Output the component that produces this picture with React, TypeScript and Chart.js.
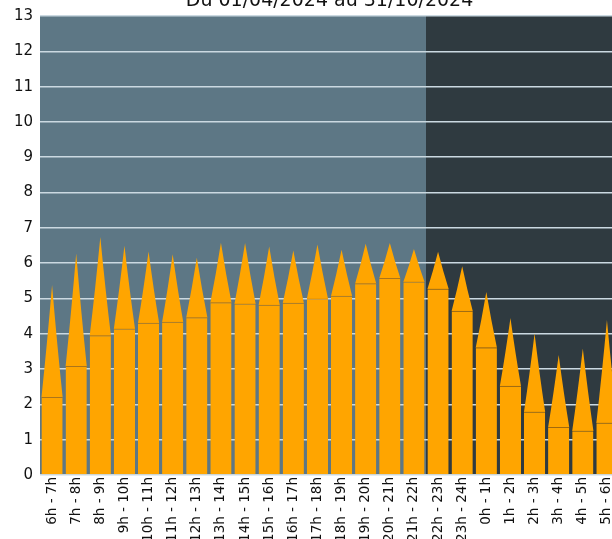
import React, { useEffect, useRef } from "react";
import { Chart, registerables } from "chart.js";

Chart.register(...registerables);

const titleText = "Du 01/04/2024 au 31/10/2024";

const categories = [
  "6h - 7h", "7h - 8h", "8h - 9h", "9h - 10h", "10h - 11h", "11h - 12h",
  "12h - 13h", "13h - 14h", "14h - 15h", "15h - 16h", "16h - 17h", "17h - 18h",
  "18h - 19h", "19h - 20h", "20h - 21h", "21h - 22h", "22h - 23h", "23h - 24h",
  "0h - 1h", "1h - 2h", "2h - 3h", "3h - 4h", "4h - 5h", "5h - 6h",
];

const meanValues = [
  2.21, 3.09, 3.96, 4.15, 4.31, 4.34, 4.47, 4.89, 4.86, 4.82, 4.88, 5.0,
  5.08, 5.43, 5.58, 5.48, 5.28, 4.65, 3.62, 2.53, 1.8, 1.36, 1.26, 1.49,
];

const maxValues = [
  5.38, 6.27, 6.74, 6.49, 6.33, 6.25, 6.15, 6.58, 6.57, 6.47, 6.36, 6.53,
  6.38, 6.55, 6.57, 6.4, 6.32, 5.91, 5.18, 4.45, 4.01, 3.4, 3.58, 4.39,
];

const yMin = 0;
const yMax = 13;
const yStep = 1;

const nightFrom = "22h - 23h";

const CANVAS_W = 630;
const CANVAS_H = 555;

export default function App() {
  const ref = useRef<HTMLCanvasElement>(null);

  useEffect(() => {
    if (!ref.current) return;

    const bgPlugin = {
      id: "bgZones",
      beforeDraw(chart: any) {
        const { ctx, chartArea: a, scales } = chart;
        const x = scales.x;
        const idx = categories.indexOf(nightFrom);
        const b = (x.getPixelForValue(idx - 1) + x.getPixelForValue(idx)) / 2;
        ctx.save();
        ctx.fillStyle = "#5d7785";
        ctx.fillRect(a.left, a.top, b - a.left, a.bottom - a.top);
        ctx.fillStyle = "#2f3a40";
        ctx.fillRect(b, a.top, a.right - b, a.bottom - a.top);
        ctx.restore();
      },
    };

    const spikePlugin = {
      id: "spikes",
      beforeDatasetsDraw(chart: any) {
        const { ctx } = chart;
        const meta = chart.getDatasetMeta(1);
        ctx.save();
        ctx.fillStyle = "#ffa500";
        meta.data.forEach((el: any) => {
          const { x, y, base, width } = el.getProps(["x", "y", "base", "width"], true);
          const half = width / 2;
          const h = base - y;
          ctx.beginPath();
          ctx.moveTo(x - half, base + 0.5);
          ctx.quadraticCurveTo(x - half * 0.47, y + h * 0.53, x, y);
          ctx.quadraticCurveTo(x + half * 0.47, y + h * 0.53, x + half, base + 0.5);
          ctx.closePath();
          ctx.fill();
        });
        ctx.restore();
      },
    };

    const titlePlugin = {
      id: "titleText",
      afterDraw(chart: any) {
        const { ctx, chartArea: a } = chart;
        ctx.save();
        ctx.font = '19px "DejaVu Sans"';
        ctx.fillStyle = "#111";
        ctx.textAlign = "center";
        ctx.textBaseline = "alphabetic";
        ctx.fillText(titleText, (a.left + a.right) / 2, 6);
        ctx.restore();
      },
    };

    const chart = new Chart(ref.current, {
      type: "bar",
      data: {
        labels: categories,
        datasets: [
          {
            label: "moyenne",
            data: meanValues,
            backgroundColor: "#ffa500",
            borderColor: "rgba(170,100,0,0.6)",
            borderWidth: { top: 1, left: 0, right: 0, bottom: 0 },
            borderSkipped: false,
            grouped: false,
            barPercentage: 0.88,
            categoryPercentage: 1,
          },
          {
            label: "max",
            data: maxValues.map((m, i) => [meanValues[i], m]),
            backgroundColor: "rgba(0,0,0,0)",
            borderWidth: 0,
            grouped: false,
            barPercentage: 0.88,
            categoryPercentage: 1,
          },
        ],
      } as any,
      options: {
        animation: false,
        responsive: false,
        maintainAspectRatio: false,
        layout: { padding: { top: 7, left: 0, right: 11, bottom: 0 } },
        plugins: {
          legend: { display: false },
          title: { display: false },
          tooltip: { enabled: false },
        },
        scales: {
          x: {
            grid: { display: false },
            border: { display: false },
            ticks: {
              autoSkip: false,
              minRotation: 90,
              maxRotation: 90,
              padding: -6,
              color: "#111",
              font: { family: "DejaVu Sans", size: 13.5 },
            },
            afterFit(s: any) {
              s.height = 80;
              s.paddingLeft = 0;
              s.paddingRight = 0;
            },
          },
          y: {
            min: yMin,
            max: yMax,
            grid: { color: "#cbd9e1", lineWidth: 1.5, drawTicks: false },
            border: { display: false },
            ticks: {
              stepSize: yStep,
              padding: 7,
              color: "#111",
              font: { family: "DejaVu Sans", size: 15 },
            },
            afterFit(s: any) {
              s.width = 40;
            },
          },
        },
      } as any,
      plugins: [bgPlugin, spikePlugin, titlePlugin],
    });

    return () => chart.destroy();
  }, []);

  return (
    <div
      style={{
        position: "fixed",
        left: 0,
        top: 0,
        width: 612,
        height: 539,
        overflow: "hidden",
        background: "#fff",
      }}
    >
      <canvas
        ref={ref}
        width={CANVAS_W}
        height={CANVAS_H}
        style={{ position: "absolute", left: 0, top: 0, width: CANVAS_W, height: CANVAS_H }}
      />
    </div>
  );
}
